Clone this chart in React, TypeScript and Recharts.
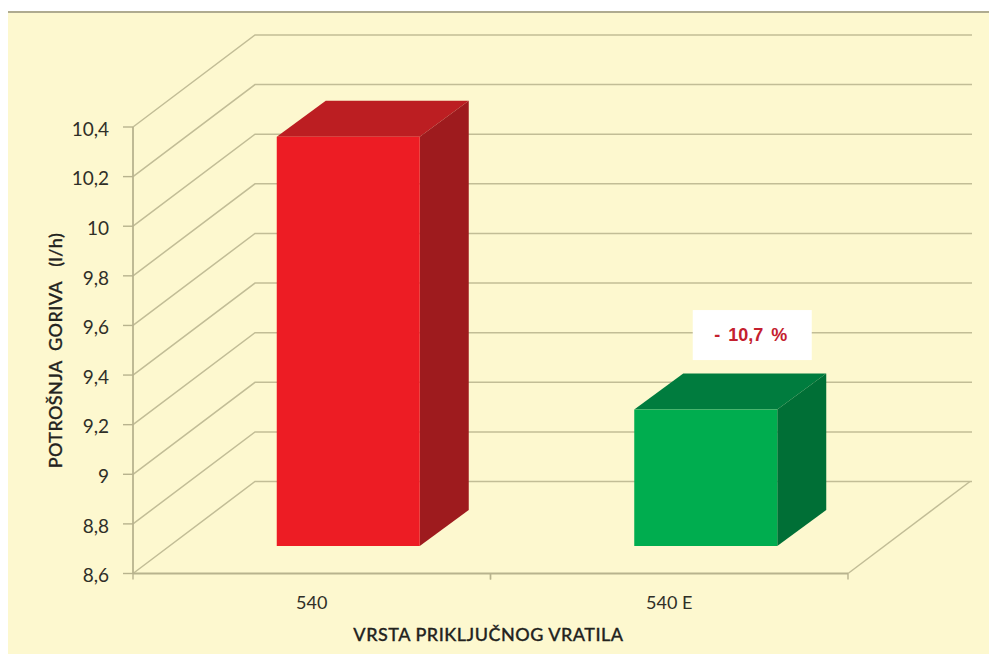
import { BarChart, Bar, XAxis, YAxis, CartesianGrid, LabelList } from 'recharts';

const categories = ['540', '540 E'];
const consumption = [10.25, 9.15];
const notes = ['', '- 10,7 %'];
const yTicks = [8.6, 8.8, 9, 9.2, 9.4, 9.6, 9.8, 10, 10.2, 10.4];

const data = categories.map((name, i) => ({ name, value: consumption[i], note: notes[i] }));

const barColors = [
  { front: '#ED1C24', top: '#BC1E22', side: '#9E1B1E' },
  { front: '#00AD4F', top: '#007C3E', side: '#006F36' },
];

const GRID = '#C2BD96';
const AXIS = '#B8B38E';
const TEXT = '#2F2F28';
const FONT = 'Lato, sans-serif';

// depth of the fake 3D floor, and of the bars standing in the middle of it
const DEPTH_X = 122;
const DEPTH_Y = 92;
const BAR_DX = 49;
const BAR_DY = 36;
const SHIFT_X = 36.5;
const SHIFT_Y = 27.5;

function WallLine(props: any) {
  const { x1, y1, x2, y, height } = props;
  const isFloor = Math.abs(y1 - (y + height)) < 1;
  return (
    <g fill="none" stroke={GRID} strokeWidth={1.5}>
      <polyline points={`${x1},${y1} ${x1 + DEPTH_X},${y1 - DEPTH_Y} ${x2 + DEPTH_X + 2},${y1 - DEPTH_Y}`} />
      {isFloor && <line x1={x2} y1={y1} x2={x2 + DEPTH_X} y2={y1 - DEPTH_Y} />}
    </g>
  );
}

function Bar3D(props: any) {
  const { x, y, width, height, index } = props;
  const c = barColors[index];
  const l = x + SHIFT_X;
  const r = l + width;
  const t = y - SHIFT_Y;
  const b = t + height;
  return (
    <g>
      <polygon fill={c.top} points={`${l},${t} ${l + BAR_DX},${t - BAR_DY} ${r + BAR_DX},${t - BAR_DY} ${r},${t}`} />
      <polygon fill={c.side} points={`${r},${t} ${r + BAR_DX},${t - BAR_DY} ${r + BAR_DX},${b - BAR_DY} ${r},${b}`} />
      <rect x={l} y={t} width={width} height={height} fill={c.front} />
    </g>
  );
}

function NoteLabel(props: any) {
  const { x, y, width, index } = props;
  const note = notes[index];
  if (!note) return null;
  const cx = x + SHIFT_X + width / 2 + 45;
  const cy = y - 102;
  return (
    <g>
      <rect x={cx - 58} y={cy - 25} width={119} height={50} fill="#FFFFFF" />
      <text
        x={cx}
        y={cy}
        dy={6}
        textAnchor="middle"
        fill="#C4202E"
        fontFamily="'Liberation Sans', Arial, sans-serif"
        fontWeight={700}
        fontSize={18}
        wordSpacing={3}
      >
        {note}
      </text>
    </g>
  );
}

function CategoryTick(props: any) {
  const { x, y, payload } = props;
  const half = payload.offset ?? 0;
  return (
    <g>
      <line x1={x - half} y1={y - 8} x2={x - half} y2={y - 2} stroke={AXIS} strokeWidth={1.4} />
      <line x1={x + half} y1={y - 8} x2={x + half} y2={y - 2} stroke={AXIS} strokeWidth={1.4} />
      <text x={x} y={y + 27} textAnchor="middle" fill={TEXT} fontFamily={FONT} fontSize={18}>
        {payload.value}
      </text>
    </g>
  );
}

export default function App() {
  return (
    <div style={{ position: 'absolute', left: 0, top: 0, width: 989, height: 654, background: '#FFFFFF' }}>
      <div
        style={{
          position: 'absolute',
          left: 8,
          top: 11,
          width: 981,
          height: 643,
          background: '#FDF8CF',
          borderTop: '2px solid #AFAB90',
          boxSizing: 'border-box',
        }}
      />
      <div style={{ position: 'absolute', left: 0, top: 0 }}>
        <BarChart
          width={989}
          height={654}
          data={data}
          margin={{ top: 127, right: 141, bottom: 20.5, left: 53 }}
          barCategoryGap="30%"
        >
          <CartesianGrid vertical={false} horizontal={WallLine} />
          <XAxis
            dataKey="name"
            height={60}
            axisLine={{ stroke: AXIS, strokeWidth: 1.8 }}
            tickLine={false}
            tick={CategoryTick}
            label={{
              value: 'VRSTA PRIKLJUČNOG VRATILA',
              position: 'insideBottom',
              offset: -7,
              dx: -2,
              fill: '#23231E',
              stroke: '#23231E',
              strokeWidth: 0.3,
              fontFamily: FONT,
              fontSize: 18,
              fontWeight: 500,
              letterSpacing: 0.5,
            }}
          />
          <YAxis
            width={80}
            domain={[8.6, 10.4]}
            ticks={yTicks}
            interval={0}
            tickSize={10}
            tickMargin={14}
            tickFormatter={(v: number) => String(v).replace('.', ',')}
            axisLine={{ stroke: AXIS, strokeWidth: 1.8 }}
            tickLine={{ stroke: AXIS, strokeWidth: 1.4 }}
            tick={{ fill: TEXT, fontFamily: FONT, fontSize: 19, dy: 2 }}
            label={{
              value: 'POTROŠNJA\u00A0\u00A0GORIVA\u00A0\u00A0\u00A0(l/h)',
              angle: -90,
              position: 'insideLeft',
              dx: -2,
              dy: 118,
              fill: '#23231E',
              stroke: '#23231E',
              strokeWidth: 0.3,
              fontFamily: FONT,
              fontSize: 18,
              fontWeight: 500,
              letterSpacing: 0.4,
            }}
          />
          <Bar dataKey="value" shape={Bar3D} isAnimationActive={false}>
            <LabelList dataKey="note" content={NoteLabel} />
          </Bar>
        </BarChart>
      </div>
    </div>
  );
}
